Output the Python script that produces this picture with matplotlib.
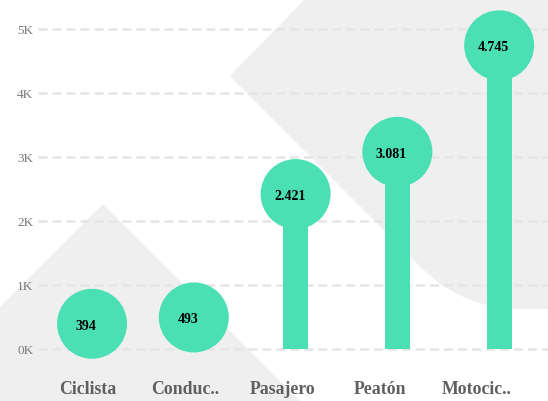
import numpy as np
import matplotlib
matplotlib.use("Agg")
import matplotlib.pyplot as plt
from matplotlib.patches import Polygon

categories = ["Ciclista", "Conduc..", "Pasajero", "Peatón", "Motocic.."]
values = [394, 493, 2421, 3081, 4745]
y_ticks = [0, 1000, 2000, 3000, 4000, 5000]
y_tick_labels = ["0K", "1K", "2K", "3K", "4K", "5K"]

GREEN = "#4ae0b3"
BG_GRAY = "#efefef"
W, H = 548, 402

fig = plt.figure(figsize=(W / 100, H / 100), dpi=100)

# decorative background shapes, drawn in pixel coordinates
bg = fig.add_axes([0, 0, 1, 1], zorder=0)
bg.set_xlim(0, W)
bg.set_ylim(H, 0)
bg.axis("off")

tri = Polygon([(103, 205), (-100, 408), (306, 408)], closed=True,
              facecolor=BG_GRAY, edgecolor="none")
bg.add_patch(tri)

ang = np.linspace(np.radians(135), np.radians(90), 30)
arc = np.column_stack([520 + 138 * np.cos(ang), 172 + 138 * np.sin(ang)])
right_pts = [(310, -5), (W + 5, -5), (W + 5, 310)] + [(520, 310)] + arc[::-1].tolist() + [(230, 77)]
bg.add_patch(Polygon(right_pts, closed=True, facecolor=BG_GRAY, edgecolor="none"))

# main chart
ax = fig.add_axes([38 / W, 40 / H, 510 / W, 362 / H], zorder=1)
ax.set_facecolor("none")
x = np.arange(len(categories))
ax.set_xlim(-0.531, 4.48)
ax.set_ylim(-187.5, 5468.75)

ax.set_axisbelow(True)
ax.yaxis.grid(True, color="#e6e6e6", linewidth=1.9, linestyle=(0, (3.4, 1.9)))
ax.xaxis.grid(False)

ax.bar(x, values, width=0.246, color=GREEN, zorder=2)
ax.scatter(x, values, s=50.4 ** 2, color=GREEN, edgecolors="none", zorder=3, clip_on=False)

for xi, v in zip(x, values):
    label = f"{v:,}".replace(",", ".")
    ax.annotate(label, (xi, v), xytext=(-4.3, -1), textcoords="offset points",
                ha="center", va="center", fontsize=10, fontweight="bold",
                family="Liberation Serif", color="black", zorder=4)

ax.set_yticks(y_ticks)
ax.set_yticklabels(y_tick_labels, family="Liberation Serif", fontsize=9.5, color="#7a7a7a")
ax.tick_params(axis="y", length=0, pad=3.4)

label_pos = x * 0.956 - 0.04
ax.set_xticks(label_pos)
ax.set_xticklabels(categories, family="Liberation Serif", fontsize=12.8,
                   fontweight="bold", color="#5f5f5f")
ax.tick_params(axis="x", length=0, pad=14)

for s in ax.spines.values():
    s.set_visible(False)

fig.savefig("out.png", dpi=100)
